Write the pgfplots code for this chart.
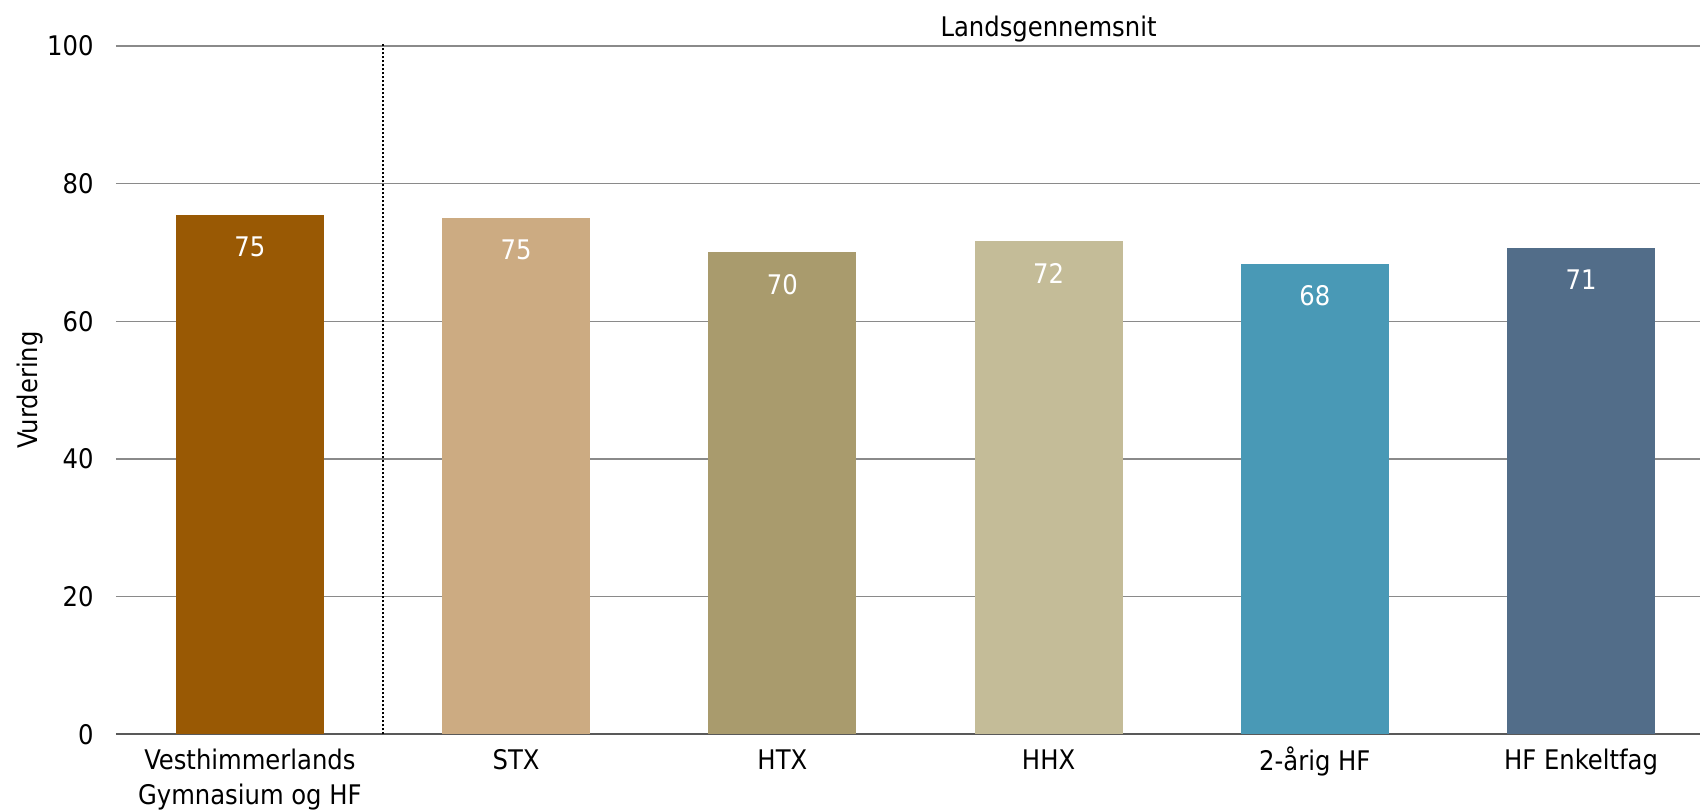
\documentclass[border=0pt]{standalone}
\usepackage{fontspec}
\setmainfont{DejaVu Sans Condensed}
\usepackage{pgfplots}
\pgfplotsset{compat=1.18}
\definecolor{c1}{HTML}{995904}
\definecolor{c2}{HTML}{CCAB82}
\definecolor{c3}{HTML}{A99B6D}
\definecolor{c4}{HTML}{C4BC98}
\definecolor{c5}{HTML}{4999B6}
\definecolor{c6}{HTML}{526D89}
\definecolor{gridgray}{HTML}{8A8A8A}
\definecolor{axisgray}{HTML}{595959}
\newcommand{\st}{\rule{0pt}{0.85em}}
\begin{document}
\fontsize{13.5}{17.5}\selectfont
\begin{tikzpicture}
\begin{axis}[
 scale only axis, width=792pt, height=344.15pt,
 xmin=-0.503, xmax=5.447, ymin=0, ymax=100,
 enlargelimits=false,
 ybar, bar width=74pt, bar shift=0pt,
 xtick={0,...,5},
 xticklabels={{\st Vesthimmerlands\\Gymnasium og HF},\st STX,\st HTX,\st HHX,\st 2-årig HF,\st HF Enkeltfag},
 ytick={0,20,...,100},
 major tick length=0pt,
 ymajorgrids, grid style={color=gridgray, line width=0.75pt},
 axis x line*=bottom, axis y line*=left,
 y axis line style={draw=none},
 x axis line style={color=axisgray, line width=0.9pt},
 xticklabel style={align=center, inner sep=0pt, anchor=north, yshift=-5.8pt},
 yticklabel style={inner sep=0pt, xshift=-11pt},
 /pgf/number format/assume math mode=true,
 ylabel={Vurdering},
 every axis y label/.style={at={(axis description cs:-0.0543,0.5)}, rotate=90, anchor=center},
 nodes near coords={\pgfmathprintnumber[fixed,precision=0]{\pgfplotspointmeta}},
 every node near coord/.append style={anchor=center, yshift=-16pt, color=white},
 point meta=y,
 clip=false,
]
\addplot[fill=c1, draw=none] coordinates {(0,75.45)};
\addplot[fill=c2, draw=none] coordinates {(1,75.0)};
\addplot[fill=c3, draw=none] coordinates {(2,70.0)};
\addplot[fill=c4, draw=none] coordinates {(3,71.6)};
\addplot[fill=c5, draw=none] coordinates {(4,68.4)};
\addplot[fill=c6, draw=none] coordinates {(5,70.7)};
\draw[black, dash pattern=on 1pt off 1pt, line width=1pt] (axis cs:0.5,0) -- (axis cs:0.5,100.45);
\node[anchor=base, inner sep=0pt] at (axis cs:3,101.45) {Landsgennemsnit};
\end{axis}
\pgfresetboundingbox
\useasboundingbox (current axis.south west) ++(-58pt,-38.35pt) rectangle ++(850pt,405.5pt);
\end{tikzpicture}
\end{document}
